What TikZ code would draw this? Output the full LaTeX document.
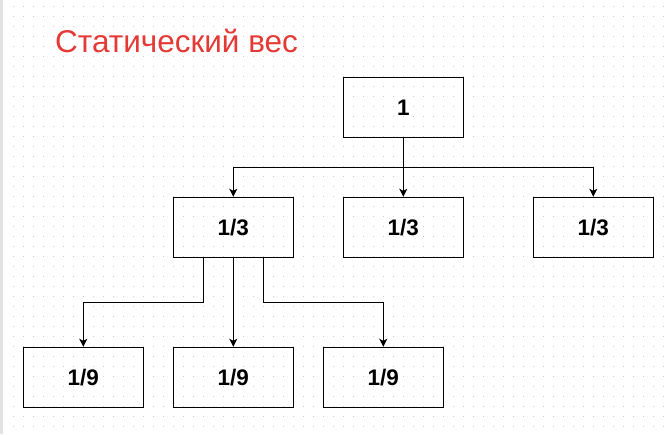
\documentclass[tikz,border=0pt]{standalone}
\usepackage{fontspec}
\setmainfont{Liberation Sans}
\usetikzlibrary{arrows.meta}
\definecolor{titlered}{HTML}{E53935}
\definecolor{griddot}{HTML}{CCCCCC}
\definecolor{edgegray}{HTML}{E2E2E2}
\begin{document}
\begin{tikzpicture}[x=1pt,y=-1pt,
  box/.style={draw, line width=1pt, minimum width=120pt, minimum height=60pt, inner sep=0pt, font=\fontsize{22.5}{26}\selectfont\bfseries},
  conn/.style={line width=1pt, -{Stealth[length=8pt,width=8pt,inset=2pt]}}]
\useasboundingbox (0,0) rectangle (668,434);
\fill[white] (0,0) rectangle (668,434);
\foreach \i in {0,...,65} \foreach \j in {0,...,42} \fill[griddot] (13.3+10*\i-0.5,6.7+10*\j-0.5) rectangle ++(1,1);
\fill[edgegray] (0,0) rectangle (3,434);
\node[anchor=base west, text=titlered, font=\fontsize{31.5}{36}\selectfont, inner sep=0pt] (title) at (55,52.3) {Статический вес};
\node[box] (top) at (403.3,107.3) {1};
\node[box] (m1) at (233.3,227.3) {1/3};
\node[box] (m2) at (403.3,227.3) {1/3};
\node[box] (m3) at (593.3,227.3) {1/3};
\node[box] (b1) at (83.3,377.3) {1/9};
\node[box] (b2) at (233.3,377.3) {1/9};
\node[box] (b3) at (383.3,377.3) {1/9};
\draw[conn] (top.south) -- ++(0,30) -| (m1.north);
\draw[conn] (top.south) -- (m2.north);
\draw[conn] (top.south) -- ++(0,30) -| (m3.north);
\draw[conn] ([xshift=-30pt]m1.south) -- ++(0,45) -| (b1.north);
\draw[conn] (m1.south) -- (b2.north);
\draw[conn] ([xshift=30pt]m1.south) -- ++(0,45) -| (b3.north);
\end{tikzpicture}
\end{document}
